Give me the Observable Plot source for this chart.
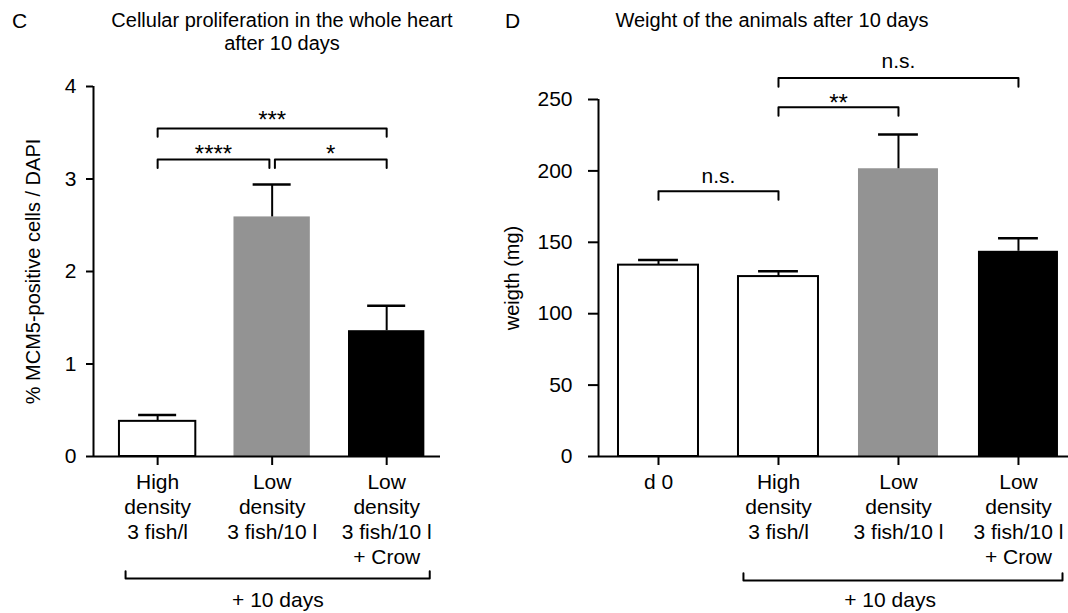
<!DOCTYPE html>
<html>
<head>
<meta charset="utf-8">
<script src="https://cdn.jsdelivr.net/npm/d3@7"></script>
<script src="https://cdn.jsdelivr.net/npm/@observablehq/plot@0.6"></script>
<style>
  body { margin: 0; background: #fff; font-family: "Liberation Sans", Arial, sans-serif; color: #000; }
  #wrap { position: relative; width: 1068px; height: 613px; overflow: hidden; background: #fff; }
  .panel { position: absolute; top: 0; }
  .title { position: absolute; font-size: 20px; line-height: 23px; text-align: center; white-space: nowrap; }
  .letter { position: absolute; font-size: 21px; line-height: 25px; }
</style>
</head>
<body>
<div id="wrap">
  <div class="panel" id="pc" style="left:0;width:500px"></div>
  <div class="panel" id="pd" style="left:500px;width:568px"></div>
  <div class="letter" style="left:12px;top:8px">C</div>
  <div class="title" style="left:82px;width:400px;top:9px">Cellular proliferation in the whole heart<br>after 10 days</div>
  <div class="letter" style="left:505px;top:8px">D</div>
  <div class="title" style="left:572px;width:400px;top:9px">Weight of the animals after 10 days</div>
</div>
<script>
// ---------- Panel C data ----------
const cCategories = ["High\ndensity\n3 fish/l", "Low\ndensity\n3 fish/10 l", "Low\ndensity\n3 fish/10 l\n+ Crow"];
const cMeans = [0.38, 2.59, 1.36];
const cSEM = [0.07, 0.35, 0.27];
const cYTicks = [0, 1, 2, 3, 4];
const cYLabel = "% MCM5-positive cells / DAPI";
const cSigLabels = ["***", "****", "*"];
const cSigFrom = [0, 0, 1.024];
const cSigTo = [2, 0.976, 2];
const cSigLevel = [3.546, 3.21, 3.21];
const cSigText = [3.63, 3.27, 3.27];
const cGroupLabel = "+ 10 days";

// ---------- Panel D data ----------
const dCategories = ["d 0", "High\ndensity\n3 fish/l", "Low\ndensity\n3 fish/10 l", "Low\ndensity\n3 fish/10 l\n+ Crow"];
const dMeans = [134, 126, 201.5, 143.7];
const dSEM = [3.6, 3.8, 24, 9.1];
const dYTicks = [0, 50, 100, 150, 200, 250];
const dYLabel = "weigth (mg)";
const dSigLabels = ["n.s.", "**", "n.s."];
const dSigFrom = [1, 1, 0];
const dSigTo = [3, 2, 1];
const dSigLevel = [265, 244.6, 185.8];
const dSigText = [276.5, 247, 196];
const dGroupLabel = "+ 10 days";

// ---------- styles ----------
const barFills = {c: ["white", "#939393", "black"], d: ["white", "white", "#939393", "black"]};

function bracketPoints(from, to, level, drop) {
  const pts = [];
  from.forEach((f, k) => {
    pts.push({k, x: f, y: level[k] - drop}, {k, x: f, y: level[k]}, {k, x: to[k], y: level[k]}, {k, x: to[k], y: level[k] - drop});
  });
  return pts;
}

function panel(o) {
  const rows = o.means.map((m, i) => ({i, m, top: m + o.sems[i]}));
  const half = 1 / 3, cap = 0.166;
  const sig = o.sigLabels.map((label, k) => ({label, x: (o.sigFrom[k] + o.sigTo[k]) / 2, y: o.sigText[k]}));
  const group = [{k: 0, x: o.group.x1, y: o.group.y + o.group.rise}, {k: 0, x: o.group.x1, y: o.group.y},
                 {k: 0, x: o.group.x2, y: o.group.y}, {k: 0, x: o.group.x2, y: o.group.y + o.group.rise}];
  return Plot.plot({
    width: o.width, height: 613,
    marginLeft: o.marginLeft, marginRight: o.marginRight, marginTop: o.marginTop, marginBottom: 157,
    style: {fontFamily: "Liberation Sans, Arial, sans-serif", fontSize: "21px", color: "black", background: "white", overflow: "visible"},
    x: {domain: o.xDomain},
    y: {domain: [0, o.yMax]},
    color: {type: "identity"},
    marks: [
      Plot.rect(rows, {x1: d => d.i - half, x2: d => d.i + half, y1: 0, y2: "m",
        fill: d => o.fills[d.i], stroke: d => o.fills[d.i] === "white" ? "black" : "none", strokeWidth: 2}),
      Plot.ruleX(rows, {x: "i", y1: "m", y2: "top", strokeWidth: 2}),
      Plot.ruleY(rows, {y: "top", x1: d => d.i - cap, x2: d => d.i + cap, strokeWidth: 2.5}),
      Plot.ruleY([0], {strokeWidth: 2}),
      Plot.ruleX([o.xDomain[0]], {y1: 0, y2: o.yMax, strokeWidth: 2}),
      Plot.axisY(o.yTicks, {tickSize: o.yTickSize, tickPadding: o.yTickPad, strokeWidth: 2, fontSize: 21,
        tickFormat: d => String(d), label: null}),
      Plot.axisX(o.cats.map((_, i) => i), {tickFormat: i => o.cats[i], tickSize: 9, tickPadding: 6, strokeWidth: 2,
        fontSize: 21, lineHeight: 1.19, label: null}),
      Plot.line(bracketPoints(o.sigFrom, o.sigTo, o.sigLevel, o.drop), {x: "x", y: "y", z: "k", strokeWidth: 2}),
      Plot.text(sig, {x: "x", y: "y", text: "label", fontSize: d => d.label.includes("*") ? 24 : 21}),
      Plot.line(group, {x: "x", y: "y", z: "k", strokeWidth: 2}),
      Plot.text([o.groupLabel], {x: o.group.tx, y: o.group.ty, text: d => d, fontSize: 21}),
      Plot.text([o.yLabel], {frameAnchor: "left", textAnchor: "middle", rotate: -90, dx: o.yLabelDx, text: d => d, fontSize: 20})
    ]
  });
}

document.getElementById("pc").append(panel({
  cats: cCategories, means: cMeans, sems: cSEM, fills: barFills.c, yTicks: cYTicks, yMax: 4,
  width: 500, marginLeft: 93, marginRight: 60, marginTop: 86, xDomain: [-0.56, 2.47],
  yTickSize: 7, yTickPad: 10, yLabel: cYLabel, yLabelDx: -60,
  sigLabels: cSigLabels, sigFrom: cSigFrom, sigTo: cSigTo, sigLevel: cSigLevel, sigText: cSigText, drop: 0.09,
  group: {x1: -0.28, x2: 2.376, y: -1.32, rise: 0.08, tx: 1.05, ty: -1.557}, groupLabel: cGroupLabel
}));

document.getElementById("pd").append(panel({
  cats: dCategories, means: dMeans, sems: dSEM, fills: barFills.d, yTicks: dYTicks, yMax: 250,
  width: 568, marginLeft: 98, marginRight: 0, marginTop: 99, xDomain: [-0.5, 3.417],
  yTickSize: 10, yTickPad: 16, yLabel: dYLabel, yLabelDx: -86,
  sigLabels: dSigLabels, sigFrom: dSigFrom, sigTo: dSigTo, sigLevel: dSigLevel, sigText: dSigText, drop: 6,
  group: {x1: 0.708, x2: 3.367, y: -86.8, rise: 5, tx: 1.93, ty: -100.8}, groupLabel: dGroupLabel
}));
</script>
</body>
</html>
